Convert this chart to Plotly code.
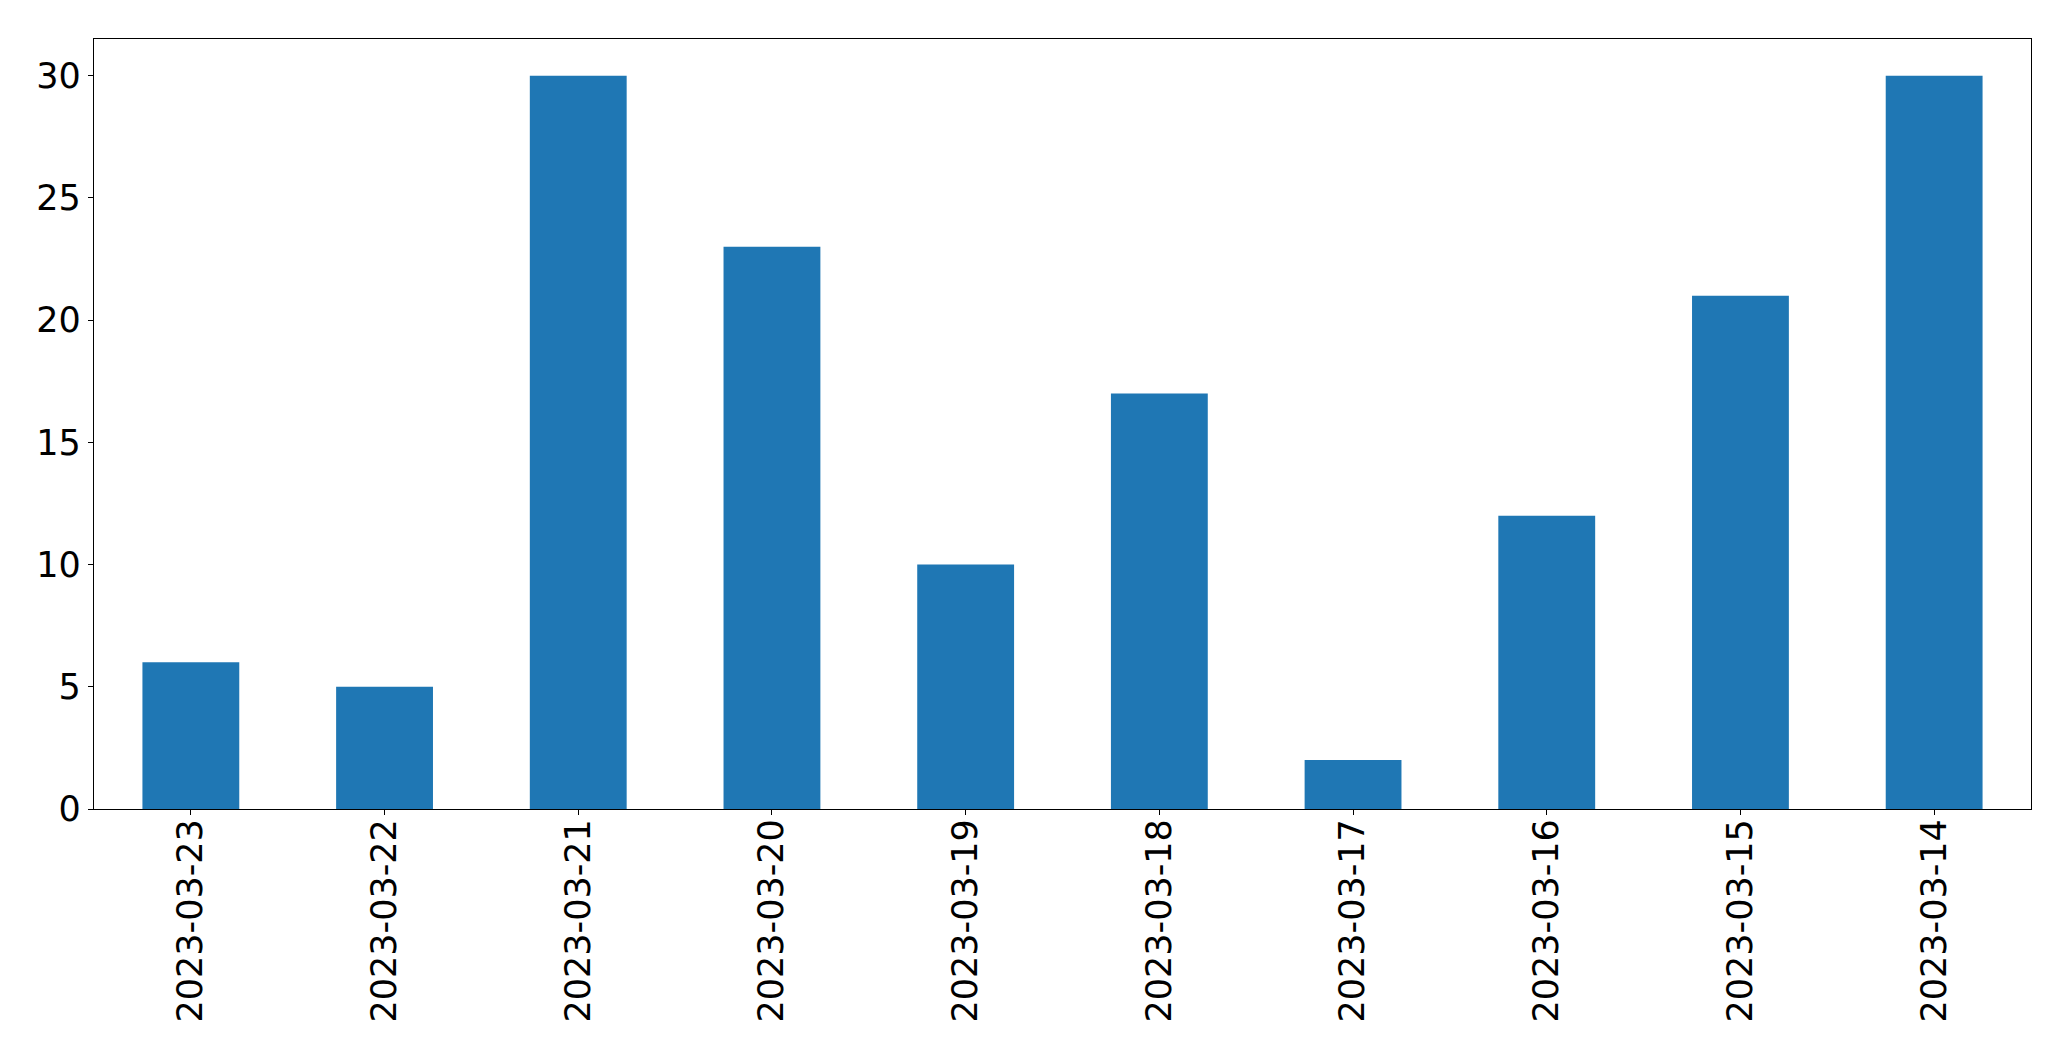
import plotly.graph_objects as go

dates = ["2023-03-23", "2023-03-22", "2023-03-21", "2023-03-20", "2023-03-19",
         "2023-03-18", "2023-03-17", "2023-03-16", "2023-03-15", "2023-03-14"]
counts = [6, 5, 30, 23, 10, 17, 2, 12, 21, 30]
y_ticks = [0, 5, 10, 15, 20, 25, 30]

fig = go.Figure(go.Bar(x=dates, y=counts, marker=dict(color="#1f77b4", line=dict(width=0))))

fig.update_layout(
    width=2055, height=1045,
    margin=dict(l=86, r=32, t=31, b=244, pad=0),
    paper_bgcolor="white", plot_bgcolor="white",
    bargap=0.5,
    showlegend=False,
    font=dict(family="DejaVu Sans", size=35, color="black"),
)
fig.update_xaxes(
    type="category", range=[-0.5, 9.5],
    tickangle=-90, ticks="outside", ticklen=5, tickwidth=1.3, tickcolor="black",
    showline=True, linecolor="black", linewidth=1.3, mirror=True,
    showgrid=False, zeroline=False, ticklabelstandoff=-10,
    tickfont=dict(family="DejaVu Sans", size=35, color="black"),
)
fig.update_yaxes(
    range=[0, 31.5], tickvals=y_ticks,
    ticks="outside", ticklen=5, tickwidth=1.3, tickcolor="black",
    showline=True, linecolor="black", linewidth=1.3, mirror=True,
    showgrid=False, zeroline=False,
    tickfont=dict(family="DejaVu Sans", size=35, color="black"),
)

fig.write_html("out.html")
